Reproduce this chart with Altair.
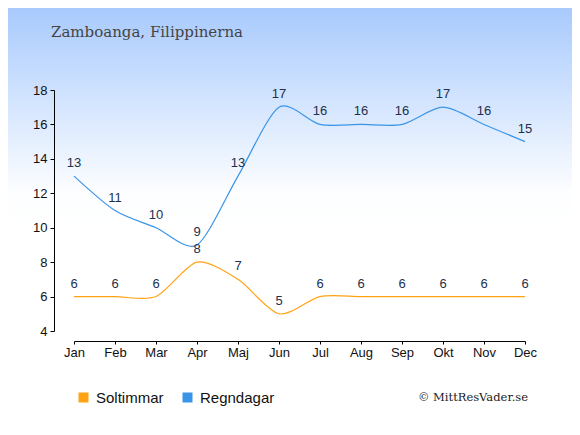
import altair as alt
import pandas as pd

months = ["Jan", "Feb", "Mar", "Apr", "Maj", "Jun", "Jul", "Aug", "Sep", "Okt", "Nov", "Dec"]
sun_hours = [6, 6, 6, 8, 7, 5, 6, 6, 6, 6, 6, 6]
rain_days = [13, 11, 10, 9, 13, 17, 16, 16, 16, 17, 16, 15]
series_names = ["Soltimmar", "Regndagar"]
series_colors = ["#ffa312", "#3a95e8"]
y_ticks = [4, 6, 8, 10, 12, 14, 16, 18]
title_text = "Zamboanga, Filippinerna"
credit_text = "© MittResVader.se"

df = pd.DataFrame({
    "month": months * 2,
    "value": sun_hours + rain_days,
    "series": [series_names[0]] * len(months) + [series_names[1]] * len(months),
})
one = pd.DataFrame({"a": [0]})

W, H = 451, 241
PL, PT, PR, PB = 66, 82, 47, 96

x = alt.X(
    "month:N", sort=months,
    scale=alt.Scale(type="point", padding=0),
    axis=alt.Axis(title=None, labelAngle=0, offset=10, domainColor="#000",
                  tickColor="#000", tickSize=3, labelFont="Liberation Sans",
                  labelFontSize=13, labelColor="#111", labelPadding=2, grid=False,
                  zindex=1),
)
y = alt.Y(
    "value:Q",
    scale=alt.Scale(domain=[4, 18], nice=False, zero=False),
    axis=alt.Axis(title=None, values=y_ticks, offset=20, domainColor="#000",
                  tickColor="#000", tickSize=4, labelFont="Liberation Sans",
                  labelFontSize=13, labelColor="#111", labelPadding=3, grid=False,
                  zindex=1),
)

bg = alt.Chart(one).mark_rect(
    color=alt.Gradient(
        gradient="linear",
        stops=[alt.GradientStop(offset=0, color="#a8cafd"),
               alt.GradientStop(offset=0.8, color="#fdfeff"),
               alt.GradientStop(offset=1, color="#ffffff")],
        x1=0, x2=0, y1=0, y2=1,
    )
).encode(
    x=alt.value(-PL), x2=alt.value(W + PR),
    y=alt.value(-PT), y2=alt.value(150),
)

lines = alt.Chart(df).mark_line(strokeWidth=1.2, interpolate="cardinal", tension=0.2).encode(
    x=x, y=y,
    color=alt.Color(
        "series:N", sort=series_names,
        scale=alt.Scale(domain=series_names, range=series_colors),
        legend=alt.Legend(
            title=None, orient="none", legendX=2, legendY=300,
            direction="horizontal", symbolType="square", symbolSize=25,
            symbolStrokeWidth=5, symbolOpacity=1,
            labelFont="Liberation Sans", labelFontSize=15, labelColor="#111",
            columnPadding=11, labelOffset=5,
        ),
    ),
    detail="series:N",
)

labels = alt.Chart(df).mark_text(
    font="Liberation Sans", fontSize=13, color="#22304d",
    baseline="alphabetic", dy=-9,
).encode(x=x, y=y, text="value:Q")

title = alt.Chart(one).mark_text(
    font="DejaVu Serif", fontSize=15, color="#444444", align="left",
    baseline="alphabetic",
).encode(x=alt.value(51 - 8 - PL), y=alt.value(37 - 8 - PT), text=alt.value(title_text))

credit = alt.Chart(one).mark_text(
    font="DejaVu Serif", fontSize=11.5, color="#222222", align="right",
    baseline="alphabetic",
).encode(x=alt.value(528 - 8 - PL), y=alt.value(401 - 8 - PT), text=alt.value(credit_text))

chart = alt.layer(bg, lines, labels, title, credit).properties(
    width=W, height=H,
    autosize=alt.AutoSizeParams(type="none"),
    padding={"left": PL, "top": PT, "right": PR, "bottom": PB},
    background="#ffffff",
).configure_view(stroke=None)

chart.save("out.html", embed_options={"renderer": "svg", "actions": False})
